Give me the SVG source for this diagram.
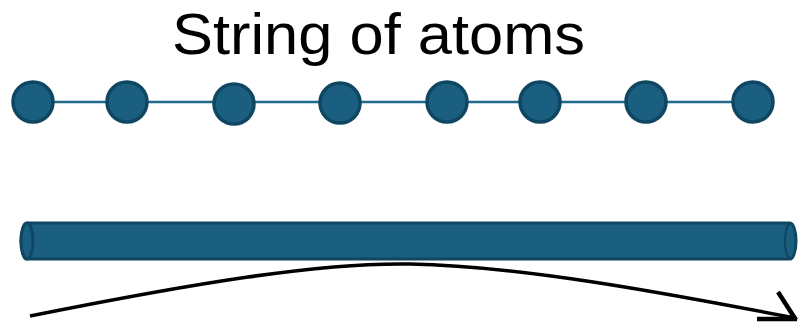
<svg xmlns="http://www.w3.org/2000/svg" width="800" height="324" viewBox="0 0 800 324">
  <style>
    .title { font-family: "Liberation Sans", Arial, sans-serif; font-size: 57px; fill: #000; }
    .atom { fill: #1a5f80; stroke: #0f4661; stroke-width: 3.5; }
    .bond { stroke: #1f6a8b; stroke-width: 2.5; fill: none; }
    .rod { fill: #1a5f80; stroke: #0f4661; stroke-width: 3; }
    .rim { fill: none; stroke: #0f4661; stroke-width: 2; }
    .path { fill: none; stroke: #000; stroke-width: 3.5; }
    .head { fill: none; stroke: #000; stroke-width: 4.5; stroke-linecap: butt; }
  </style>

  <text class="title" x="172" y="54" textLength="413" lengthAdjust="spacingAndGlyphs">String of atoms</text>

  <g id="connectors">
    <line class="bond" x1="33" y1="102" x2="753" y2="102"/>
  </g>

  <g id="atom1"><circle class="atom" cx="33" cy="102" r="20"/></g>
  <g id="atom2"><circle class="atom" cx="127" cy="102" r="20"/></g>
  <g id="atom3"><circle class="atom" cx="234" cy="104" r="20"/></g>
  <g id="atom4"><circle class="atom" cx="340" cy="103" r="20"/></g>
  <g id="atom5"><circle class="atom" cx="447" cy="102" r="20"/></g>
  <g id="atom6"><circle class="atom" cx="540" cy="102" r="20"/></g>
  <g id="atom7"><circle class="atom" cx="646" cy="102" r="20"/></g>
  <g id="atom8"><circle class="atom" cx="753" cy="102" r="20"/></g>

  <!-- continuous rod -->
  <g id="rod">
    <path class="rod" d="M27,223 L790,223 A6,18 0 0 1 790,259 L27,259 A6,18 0 0 1 27,223 Z"/>
    <ellipse class="rod" cx="27" cy="241" rx="6" ry="18"/>
    <path class="rim" d="M790,224 A5,17 0 0 0 790,258"/>
  </g>

  <!-- bending profile -->
  <g id="curve">
    <path class="path" d="M30,316 C190,284 320,262 410,264 C520,266 660,292 795,318"/>
    <path class="head" d="M757,319 L797,319 M778,292 L796,320"/>
  </g>
</svg>
